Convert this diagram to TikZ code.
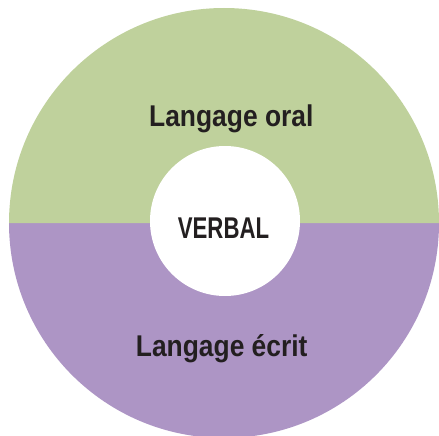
\documentclass[tikz,border=0pt]{standalone}
\usepackage{fontspec}
\setmainfont{Liberation Sans}
\definecolor{oralgreen}{HTML}{BFD19C}
\definecolor{ecritpurple}{HTML}{AD95C5}
\definecolor{textdark}{HTML}{231F20}
\tikzset{
  label text/.style={text=textdark, font=\bfseries\fontsize{30}{30}\selectfont, inner sep=0pt, anchor=base},
}
\begin{document}
\begin{tikzpicture}[x=1pt,y=-1pt]
\useasboundingbox (0,0) rectangle (439,436);
\clip (0,0) rectangle (439,436);
\coordinate (c) at (224,223);
\fill[ecritpurple] (c) ++(-215,0) arc[start angle=180, end angle=0, radius=215] -- cycle;
\fill[oralgreen] (c) ++(215,0) arc[start angle=0, end angle=-180, radius=215] -- cycle;
\fill[white] (225,221) circle[radius=75];
\node[label text] (oral) at (231.3,126.7) {\scalebox{0.88}[1]{Langage oral}};
\node[label text] (verbal) at (223.5,238.3) {\scalebox{0.74}[1]{VERBAL}};
\node[label text] (ecrit) at (221.7,356) {\scalebox{0.88}[1]{Langage écrit}};
\end{tikzpicture}
\end{document}
